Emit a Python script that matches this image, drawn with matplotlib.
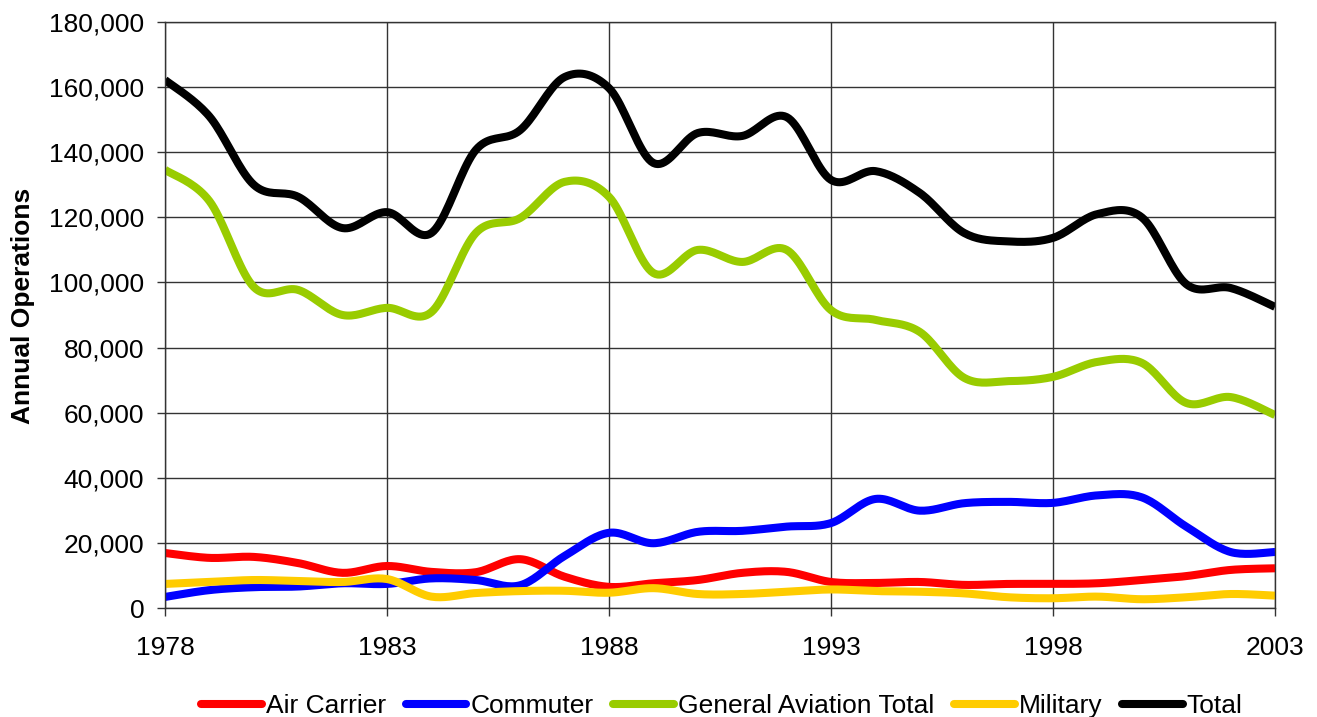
import numpy as np
import matplotlib
matplotlib.use("Agg")
import matplotlib.pyplot as plt
from matplotlib.lines import Line2D
from matplotlib.ticker import FuncFormatter

plt.rcParams['font.family'] = ['Liberation Sans', 'DejaVu Sans']

# Jahre und Werte
years = list(range(1978, 2004))

air_carrier = [16900, 15400, 15700, 13800, 10800, 12900, 11100, 11000, 15000, 9600,
               6500, 7600, 8600, 10800, 11100, 8000, 7700, 8000, 7100, 7400,
               7400, 7600, 8600, 9800, 11700, 12200]
commuter = [3400, 5500, 6400, 6600, 7600, 7400, 9100, 8600, 7000, 16000,
            23100, 19900, 23400, 23700, 25000, 26100, 33500, 29900, 32200, 32600,
            32300, 34600, 34000, 25000, 17200, 17200]
general_aviation = [134600, 125000, 98600, 97700, 90000, 92200, 90900, 115200, 119800, 130900,
                    126300, 102900, 110000, 106300, 110000, 91500, 88500, 84800, 70700, 69700,
                    71000, 75600, 75300, 63000, 64800, 59300]
military = [7400, 8000, 8600, 8300, 8000, 8900, 3500, 4600, 5200, 5300,
            4700, 6100, 4300, 4300, 5000, 5700, 5200, 5000, 4500, 3300,
            3000, 3500, 2700, 3300, 4300, 3800]
total = [162200, 151000, 130000, 126300, 116700, 121600, 115200, 140700, 146800, 163100,
         159700, 136700, 145900, 145000, 150800, 131500, 134200, 127500, 115200, 112600,
         113700, 121000, 120000, 99500, 98300, 92500]

series_names = ['Air Carrier', 'Commuter', 'General Aviation Total', 'Military', 'Total']
series_values = [air_carrier, commuter, general_aviation, military, total]
series_colors = ['#ff0000', '#0000ff', '#99cc00', '#ffcc00', '#000000']

x_ticks = [1978, 1983, 1988, 1993, 1998, 2003]


# geglaettete Linie wie in Excel (Catmull-Rom / Bezier)
def smooth(x, y, n=20):
    x = np.asarray(x, float)
    y = np.asarray(y, float)
    px = np.concatenate([[x[0]], x, [x[-1]]])
    py = np.concatenate([[y[0]], y, [y[-1]]])
    xs, ys = [], []
    t = np.linspace(0, 1, n, endpoint=False)
    for i in range(1, len(px) - 2):
        p0x, p1x, p2x, p3x = px[i - 1], px[i], px[i + 1], px[i + 2]
        p0y, p1y, p2y, p3y = py[i - 1], py[i], py[i + 1], py[i + 2]
        c1x, c1y = p1x + (p2x - p0x) / 6, p1y + (p2y - p0y) / 6
        c2x, c2y = p2x - (p3x - p1x) / 6, p2y - (p3y - p1y) / 6
        bx = (1 - t) ** 3 * p1x + 3 * (1 - t) ** 2 * t * c1x + 3 * (1 - t) * t ** 2 * c2x + t ** 3 * p2x
        by = (1 - t) ** 3 * p1y + 3 * (1 - t) ** 2 * t * c1y + 3 * (1 - t) * t ** 2 * c2y + t ** 3 * p2y
        xs.extend(bx)
        ys.extend(by)
    xs.append(x[-1])
    ys.append(y[-1])
    return np.array(xs), np.array(ys)


fig = plt.figure(figsize=(13.17, 7.17), dpi=100)
ax = fig.add_axes([0.1253, 0.152, 0.8428, 0.8173])

for name, vals, col in zip(series_names, series_values, series_colors):
    sx, sy = smooth(years, vals)
    ax.plot(sx, sy, color=col, lw=5.8, solid_capstyle='butt', solid_joinstyle='round', label=name)

ax.set_xlim(1978, 2003)
ax.set_ylim(0, 180000)
ax.set_xticks(x_ticks)
ax.set_yticks(range(0, 180001, 20000))
ax.yaxis.set_major_formatter(FuncFormatter(lambda v, p: f"{int(v):,}"))
ax.grid(True, color='#333333', lw=1)
ax.set_axisbelow(True)
for s in ax.spines.values():
    s.set_color('#333333')
    s.set_linewidth(1)
ax.tick_params(axis='both', labelsize=19, length=6, width=1, color='#333333')
ax.tick_params(axis='x', pad=14)
ax.tick_params(axis='y', pad=9)

ax.set_ylabel('Annual Operations', fontsize=19, fontweight='bold')
ax.yaxis.set_label_coords(-0.117, 0.515)

handles = [Line2D([0], [0], color=c, lw=5.8, solid_capstyle='round') for c in series_colors]
fig.legend(handles, series_names, loc='center', bbox_to_anchor=(0.548, 0.015), ncol=5,
           frameon=False, fontsize=19, handlelength=2.3, handletextpad=0.15, columnspacing=0.75,
           borderaxespad=0, borderpad=0)

fig.savefig('out.png', dpi=100)
